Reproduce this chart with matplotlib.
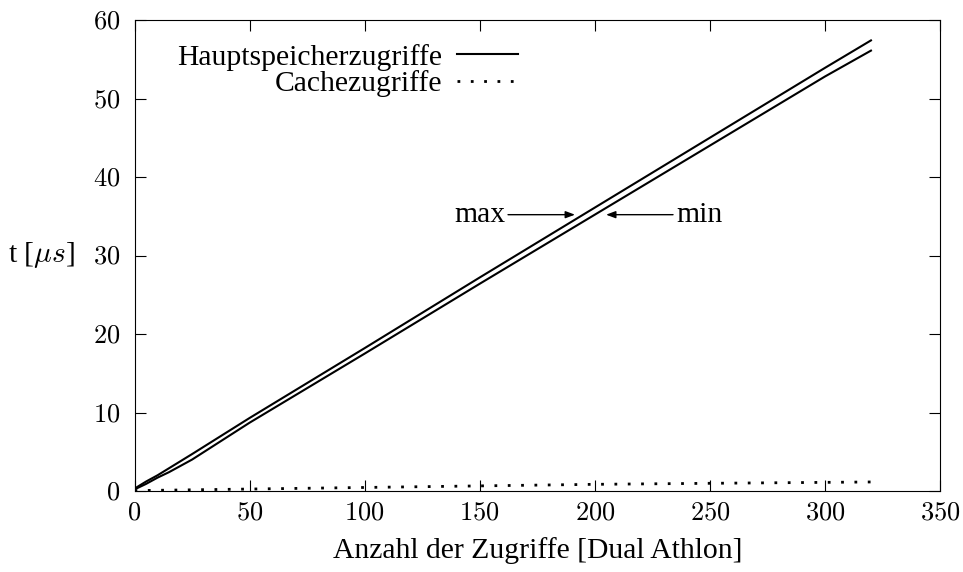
import matplotlib
matplotlib.use('Agg')
import matplotlib.pyplot as plt
from matplotlib.ticker import FuncFormatter, MultipleLocator

plt.rcParams['font.family'] = ['Liberation Serif', 'DejaVu Serif']
plt.rcParams['mathtext.fontset'] = 'cm'

# Hauptspeicherzugriffe (max / min)
x_haupt = [0, 5, 10, 15, 20, 25, 50, 100, 150, 200, 250, 300, 320]
t_max = [0.3, 1.2, 2.0, 2.9, 3.8, 4.7, 9.3, 18.2, 27.2, 36.1, 45.0, 53.9, 57.4]
t_min = [0.2, 0.9, 1.7, 2.4, 3.2, 4.0, 8.7, 17.5, 26.4, 35.2, 44.0, 52.8, 56.1]

# Cachezugriffe
x_cache = [0, 50, 100, 150, 200, 250, 300, 320]
t_cache = [0.05, 0.25, 0.45, 0.65, 0.85, 0.98, 1.1, 1.15]

fs = 21.3
tfs = 19

fig = plt.figure(figsize=(9.63, 5.72), dpi=100)
ax = fig.add_axes([134.5 / 963, 1 - 491 / 572, 805.5 / 963, 471 / 572])

ax.plot(x_haupt, t_max, color='black', lw=1.5, label='Hauptspeicherzugriffe')
ax.plot(x_haupt, t_min, color='black', lw=1.5)
ax.plot(x_cache, t_cache, color='black', lw=2, linestyle=(0, (1, 3.8)),
        label='Cachezugriffe')

# Pfeile max / min
arrow = dict(arrowstyle='-|>,head_length=0.4,head_width=0.15', color='black',
             lw=1, mutation_scale=14, shrinkA=0, shrinkB=0)
ax.annotate('', xy=(191.4, 35.2), xytext=(162.3, 35.2), arrowprops=arrow)
ax.annotate('', xy=(204.9, 35.2), xytext=(234, 35.2), arrowprops=arrow)
ax.text(161.2, 34.3, 'max', ha='right', va='baseline', fontsize=fs)
ax.text(235.3, 34.3, 'min', ha='left', va='baseline', fontsize=fs)

ax.set_xlim(0, 350)
ax.set_ylim(0, 60)
ax.xaxis.set_major_locator(MultipleLocator(50))
ax.yaxis.set_major_locator(MultipleLocator(10))
fmt = FuncFormatter(lambda v, p: f'${v:g}$')
ax.xaxis.set_major_formatter(fmt)
ax.yaxis.set_major_formatter(fmt)
ax.tick_params(direction='in', length=8, width=0.8, top=True, right=True,
               labelsize=tfs)
ax.tick_params(axis='x', pad=8)
ax.tick_params(axis='y', pad=10)
for s in ax.spines.values():
    s.set_linewidth(0.8)

ax.set_xlabel('Anzahl der Zugriffe [Dual Athlon]', fontsize=fs, va='top')
ax.xaxis.set_label_coords(0.5, -0.098)
ax.set_ylabel(r't [$\mu s$]', fontsize=fs, rotation=0, va='center',
              ha='center')
ax.yaxis.set_label_coords(-0.115, 0.5)

ax.legend(loc='upper right', bbox_to_anchor=(0.476, 0.95), frameon=False,
          markerfirst=False, alignment='right', fontsize=fs,
          handlelength=2.05, handletextpad=0.5, labelspacing=0.0,
          borderpad=0, borderaxespad=0)

fig.savefig('out.png', dpi=100)
